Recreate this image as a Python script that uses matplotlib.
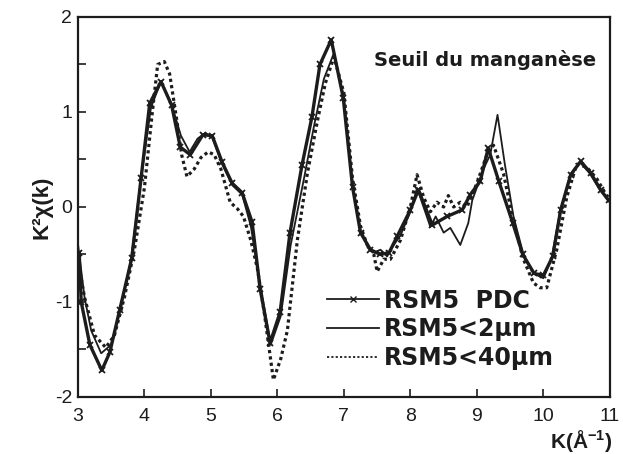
import matplotlib
matplotlib.use("Agg")
import matplotlib.pyplot as plt
from matplotlib.lines import Line2D
from matplotlib.ticker import MultipleLocator

plt.rcParams['font.family'] = ['Liberation Sans', 'DejaVu Sans']
plt.rcParams['axes.unicode_minus'] = False
plt.rcParams['mathtext.fontset'] = 'custom'
plt.rcParams['mathtext.rm'] = 'Liberation Sans'
plt.rcParams['mathtext.bf'] = 'Liberation Sans:bold'

# EXAFS k^2-weighted oscillations at the Mn edge
k_pdc = [3.02, 3.05, 3.18, 3.36, 3.48, 3.63, 3.81, 3.95, 4.08, 4.25, 4.41, 4.54,
         4.69, 4.88, 5.02, 5.17, 5.32, 5.47, 5.62, 5.74, 5.89, 6.04, 6.19, 6.37,
         6.52, 6.64, 6.81, 6.99, 7.13, 7.25, 7.40, 7.55, 7.68, 7.80, 8.00, 8.12,
         8.33, 8.55, 8.78, 8.90, 9.05, 9.17, 9.33, 9.54, 9.69, 9.86, 10.00, 10.14,
         10.26, 10.41, 10.56, 10.71, 10.86, 10.98]
chi_pdc = [-0.48, -1.00, -1.45, -1.72, -1.53, -1.08, -0.54, 0.30, 1.09, 1.32, 1.07, 0.63,
           0.55, 0.76, 0.75, 0.47, 0.25, 0.15, -0.16, -0.86, -1.43, -1.11, -0.27, 0.44,
           0.95, 1.50, 1.76, 1.15, 0.21, -0.27, -0.45, -0.50, -0.48, -0.31, -0.03, 0.18,
           -0.19, -0.10, -0.03, 0.13, 0.27, 0.62, 0.27, -0.17, -0.50, -0.70, -0.72, -0.52,
           -0.03, 0.34, 0.48, 0.36, 0.18, 0.07]

k_2um = [3.00, 3.10, 3.20, 3.35, 3.50, 3.65, 3.80, 3.95, 4.10, 4.25, 4.40, 4.55,
         4.68, 4.80, 4.92, 5.02, 5.17, 5.32, 5.47, 5.60, 5.75, 5.90, 6.05, 6.20,
         6.40, 6.55, 6.70, 6.85, 7.00, 7.13, 7.25, 7.35, 7.45, 7.55, 7.65, 7.75,
         7.85, 8.00, 8.10, 8.30, 8.38, 8.50, 8.60, 8.75, 8.87, 8.93, 9.10, 9.20,
         9.31, 9.42, 9.55, 9.70, 9.85, 10.00, 10.12, 10.25, 10.40, 10.55, 10.70,
         10.85, 11.00]
chi_2um = [-0.38, -0.95, -1.30, -1.54, -1.45, -1.05, -0.55, 0.30, 1.05, 1.32, 1.10, 0.75,
           0.58, 0.72, 0.78, 0.73, 0.45, 0.23, 0.13, -0.20, -0.85, -1.45, -1.15, -0.40,
           0.30, 0.85, 1.35, 1.62, 1.15, 0.25, -0.25, -0.40, -0.48, -0.45, -0.52, -0.40,
           -0.30, -0.05, 0.20, -0.21, -0.10, -0.27, -0.22, -0.40, -0.17, 0.07, 0.40, 0.55,
           0.97, 0.45, -0.10, -0.50, -0.70, -0.75, -0.55, -0.05, 0.32, 0.47, 0.35,
           0.18, 0.05]

k_40um = [3.00, 3.10, 3.25, 3.42, 3.55, 3.70, 3.85, 4.00, 4.12, 4.20, 4.30, 4.38,
          4.48, 4.56, 4.64, 4.75, 4.85, 4.96, 5.05, 5.15, 5.29, 5.40, 5.49, 5.60,
          5.70, 5.80, 5.94, 6.05, 6.15, 6.30, 6.45, 6.60, 6.72, 6.85, 7.00, 7.13,
          7.25, 7.35, 7.45, 7.50, 7.60, 7.70, 7.85, 8.00, 8.10, 8.20, 8.30, 8.40,
          8.50, 8.57, 8.65, 8.75, 8.85, 9.00, 9.15, 9.25, 9.40, 9.55, 9.70, 9.85,
          9.95, 10.05, 10.20, 10.35, 10.50, 10.65, 10.80, 10.95, 11.00]
chi_40um = [-0.56, -0.95, -1.35, -1.48, -1.35, -0.95, -0.45, 0.20, 1.00, 1.50, 1.53, 1.40,
            0.95, 0.55, 0.32, 0.40, 0.52, 0.58, 0.55, 0.40, 0.05, -0.02, -0.10, -0.35,
            -0.65, -1.10, -1.82, -1.60, -1.30, -0.35, 0.35, 0.90, 1.30, 1.58, 1.20, 0.30,
            -0.20, -0.40, -0.50, -0.68, -0.55, -0.55, -0.35, 0.00, 0.34, 0.10, -0.05, 0.05,
            0.00, 0.12, 0.00, 0.05, 0.00, 0.25, 0.55, 0.65, 0.35, -0.15, -0.55, -0.80,
            -0.85, -0.85, -0.45, 0.10, 0.45, 0.42, 0.30, 0.12, 0.10]

x_ticks = [3, 4, 5, 6, 7, 8, 9, 10, 11]
y_ticks = [-2, -1, 0, 1, 2]
labels = ["RSM5  PDC", "RSM5<2\u00b5m", "RSM5<40\u00b5m"]

ink = "#1c1c1c"
wide_bold = {'family': ['DejaVu Sans'], 'weight': 'bold'}

fig = plt.figure(figsize=(6.23, 4.54), dpi=100)
ax = fig.add_axes([0.125, 0.1256, 0.854, 0.837])

ax.plot(k_40um, chi_40um, color=ink, lw=2.3, linestyle=(0, (1, 1.0)))
ax.plot(k_2um, chi_2um, color=ink, lw=1.3)
ax.plot(k_pdc, chi_pdc, color=ink, lw=2.4, marker='x', ms=5, mew=1.3)

ax.set_xlim(3, 11)
ax.set_ylim(-2, 2)
ax.set_xticks(x_ticks)
ax.set_xticklabels([str(t) for t in x_ticks])
ax.set_yticks(y_ticks)
ax.set_yticklabels([str(t) for t in y_ticks])
ax.yaxis.set_minor_locator(MultipleLocator(0.5))
ax.tick_params(which='both', direction='in', length=6, width=1.2, labelsize=14,
               colors=ink)
ax.tick_params(axis='x', pad=8)
ax.tick_params(axis='y', pad=4)
for s in ax.spines.values():
    s.set_linewidth(1.6)
    s.set_color(ink)

ax.set_ylabel("K\u00b2\u03c7(k)", fontsize=16, fontweight='bold', color=ink, labelpad=2)
fig.text(0.984, 0.012, r"K(Å$^{\mathbf{-1}}$)", fontsize=15, fontweight='bold',
         color=ink, ha='right', va='baseline')

ax.text(0.975, 0.887, "Seuil du manganèse", transform=ax.transAxes, fontsize=14,
        color=ink, ha='right', va='center', fontdict=wide_bold)

handles = [
    Line2D([0, 0.5, 1], [0, 0, 0], color=ink, lw=1.3, marker='x', ms=4, mew=1.0,
           markevery=[1]),
    Line2D([], [], color=ink, lw=1.3),
    Line2D([], [], color=ink, lw=1.3, linestyle=(0, (1.2, 1.2))),
]
leg = ax.legend(handles, labels, loc='upper left', bbox_to_anchor=(0.468, 0.285),
                frameon=False, prop={'family': 'DejaVu Sans', 'weight': 'bold',
                                     'size': 17},
                handlelength=2.2, handletextpad=0.2,
                labelspacing=0.2, borderpad=0, borderaxespad=0)
for t in leg.get_texts():
    t.set_color(ink)

fig.savefig("out.png", dpi=100)
